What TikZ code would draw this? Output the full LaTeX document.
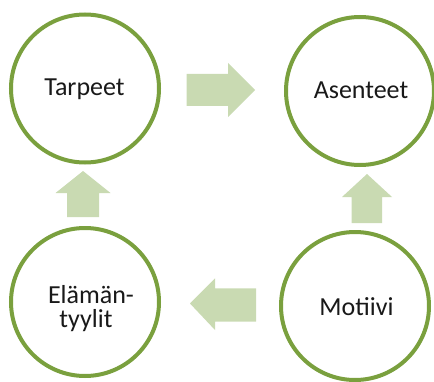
\documentclass[tikz,border=0pt]{standalone}
\usepackage{fontspec}
\setmainfont{Carlito}
\definecolor{ringgreen}{RGB}{122,160,62}
\definecolor{arrowgreen}{RGB}{201,218,178}
\tikzset{
  ring/.style={circle, draw=ringgreen, line width=4pt, fill=white, minimum size=148pt, inner sep=0pt},
  lbl/.style={font=\fontsize{26}{22}\selectfont, text=black!90, inner sep=0pt, anchor=base},
  blockarrow/.style={fill=arrowgreen, draw=none}
}
\begin{document}
\begin{tikzpicture}[x=1pt,y=1pt]
\useasboundingbox (0,0) rectangle (434,381);
% circles
\node[ring] (tarpeet) at (85,292.5) {};
\node[ring] (asenteet) at (360,290) {};
\node[ring] (elaman) at (85,79) {};
\node[ring] (motiivi) at (355,75) {};
% labels
\node[lbl] (tl) at (84.5,285.3) {Tarpeet};
\node[lbl] (al) at (361,282) {Asenteet};
\node[lbl] (ml) at (356.5,66) {Motiivi};
\node[lbl] (el1) at (91,77.5) {Elämän-};
\node[lbl] (el2) at (86,54) {tyylit};
% block arrows
\fill[blockarrow] (186.5,307) -- (228,307) -- (228,318) -- (255,291) -- (228,264) -- (228,275) -- (186.5,275) -- cycle;
\fill[blockarrow] (67,164) -- (99,164) -- (99,188) -- (110.5,188) -- (83,210) -- (55.5,188) -- (67,188) -- cycle;
\fill[blockarrow] (351.5,158) -- (382,158) -- (382,184) -- (392,184) -- (367,207) -- (342,184) -- (351.5,184) -- cycle;
\fill[blockarrow] (256,92.7) -- (215,92.7) -- (215,102.7) -- (190,77.5) -- (215,51) -- (215,59.3) -- (256,59.3) -- cycle;
\end{tikzpicture}
\end{document}
